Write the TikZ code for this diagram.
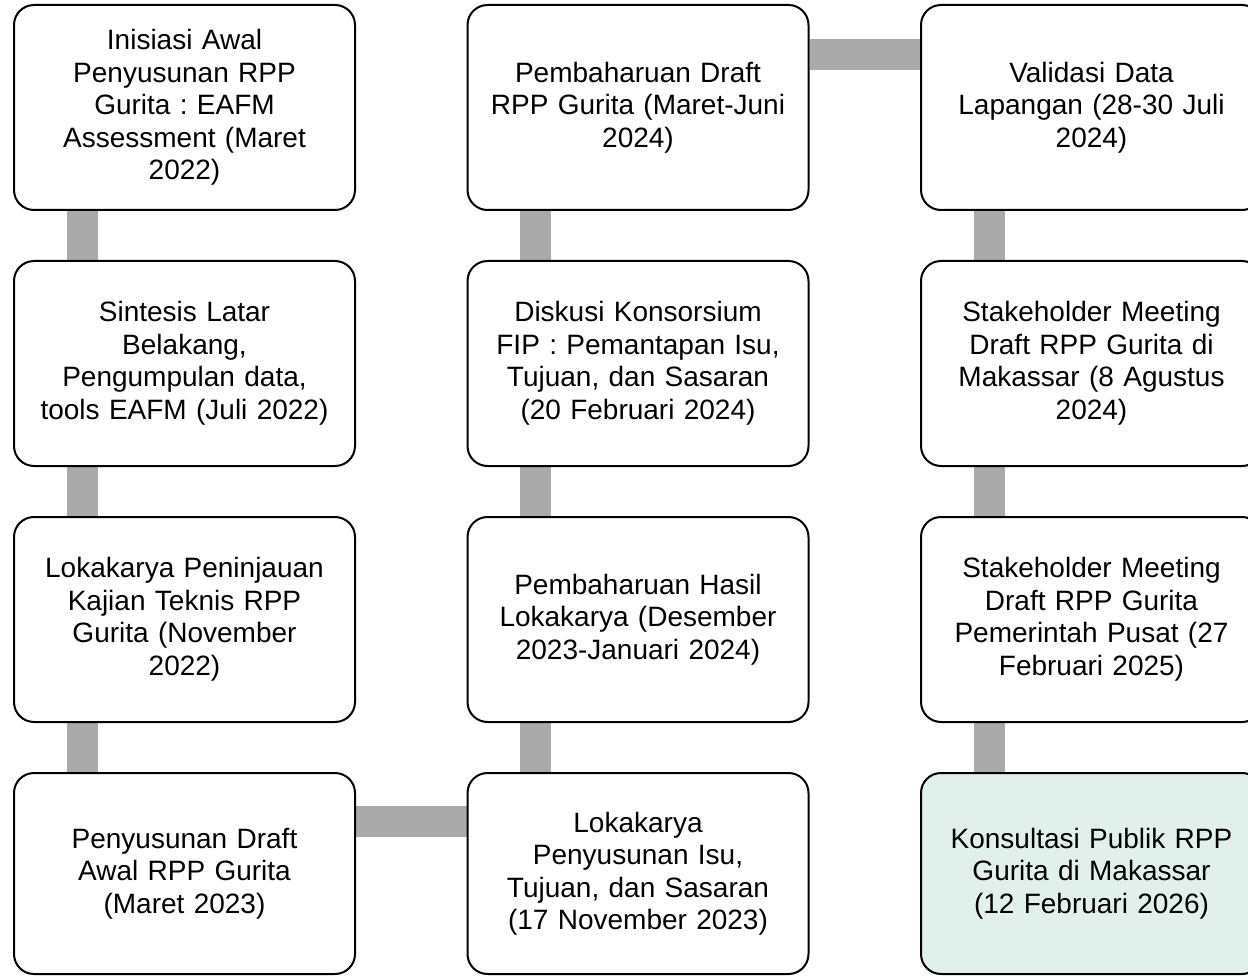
\documentclass[tikz,border=0pt]{standalone}
\usepackage{fontspec}
\setmainfont{Liberation Sans}
\frenchspacing
\usetikzlibrary{backgrounds}
\definecolor{conngray}{RGB}{170,170,170}
\definecolor{lastfill}{RGB}{226,240,235}
\tikzset{
  stepbox/.style={draw=black, line width=2pt, rounded corners=20pt, fill=white,
    minimum width=341pt, minimum height=205pt, inner sep=0pt,
    align=center, text width=335pt,
    font=\fontsize{28pt}{32.5pt}\selectfont\frenchspacing},
  lastbox/.style={stepbox, fill=lastfill, minimum height=201pt},
  conn/.style={draw=conngray, line width=31pt, line cap=butt}
}
\begin{document}
\begin{tikzpicture}[x=1pt,y=-1pt]
\useasboundingbox (0,0) rectangle (1248,976);
% column 1
\node[stepbox] (a1) at (184.5,107.5) {Inisiasi Awal\\Penyusunan RPP\\Gurita : EAFM\\Assessment (Maret\\2022)};
\node[stepbox] (a2) at (184.5,363.5) {Sintesis Latar\\Belakang,\\Pengumpulan data,\\tools EAFM (Juli 2022)};
\node[stepbox] (a3) at (184.5,619.5) {Lokakarya Peninjauan\\Kajian Teknis RPP\\Gurita (November\\2022)};
\node[stepbox, minimum height=201pt] (a4) at (184.5,873.5) {Penyusunan Draft\\Awal RPP Gurita\\(Maret 2023)};
% column 2
\node[stepbox] (b1) at (638,107.5) {Pembaharuan Draft\\RPP Gurita (Maret-Juni\\2024)};
\node[stepbox] (b2) at (638,363.5) {Diskusi Konsorsium\\FIP : Pemantapan Isu,\\Tujuan, dan Sasaran\\(20 Februari 2024)};
\node[stepbox] (b3) at (638,619.5) {Pembaharuan Hasil\\Lokakarya (Desember\\2023-Januari 2024)};
\node[stepbox, minimum height=201pt] (b4) at (638,873.5) {Lokakarya\\Penyusunan Isu,\\Tujuan, dan Sasaran\\(17 November 2023)};
% column 3
\node[stepbox] (c1) at (1091.5,107.5) {Validasi Data\\Lapangan (28-30 Juli\\2024)};
\node[stepbox] (c2) at (1091.5,363.5) {Stakeholder Meeting\\Draft RPP Gurita di\\Makassar (8 Agustus\\2024)};
\node[stepbox] (c3) at (1091.5,619.5) {Stakeholder Meeting\\Draft RPP Gurita\\Pemerintah Pusat (27\\Februari 2025)};
\node[lastbox] (c4) at (1091.5,873.5) {Konsultasi Publik RPP\\Gurita di Makassar\\(12 Februari 2026)};
% connectors
\begin{scope}[on background layer]
\draw[conn] ([xshift=69.5pt]a1.south west) -- ([xshift=69.5pt]a2.north west);
\draw[conn] ([xshift=69.5pt]a2.south west) -- ([xshift=69.5pt]a3.north west);
\draw[conn] ([xshift=69.5pt]a3.south west) -- ([xshift=69.5pt]a4.north west);
\draw[conn] ([yshift=-49.5pt]a4.north east) -- ([yshift=-49.5pt]b4.north west);
\draw[conn] ([xshift=69pt]b4.north west) -- ([xshift=69pt]b3.south west);
\draw[conn] ([xshift=69pt]b3.north west) -- ([xshift=69pt]b2.south west);
\draw[conn] ([xshift=69pt]b2.north west) -- ([xshift=69pt]b1.south west);
\draw[conn] ([yshift=-50.5pt]b1.north east) -- ([yshift=-50.5pt]c1.north west);
\draw[conn] ([xshift=69.5pt]c1.south west) -- ([xshift=69.5pt]c2.north west);
\draw[conn] ([xshift=69.5pt]c2.south west) -- ([xshift=69.5pt]c3.north west);
\draw[conn] ([xshift=69.5pt]c3.south west) -- ([xshift=69.5pt]c4.north west);
\end{scope}
\end{tikzpicture}
\end{document}
